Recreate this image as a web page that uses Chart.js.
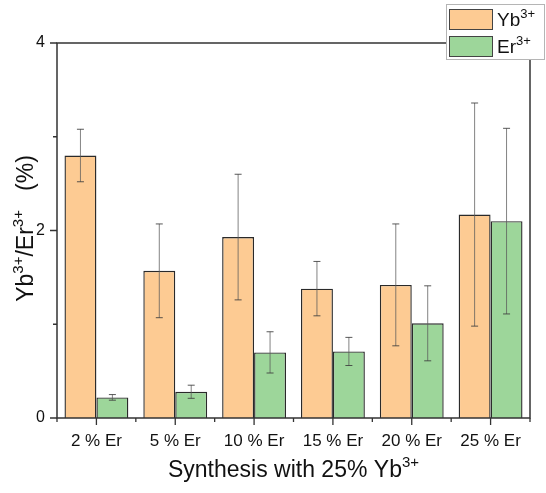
<!DOCTYPE html>
<html>
<head>
<meta charset="utf-8">
<script src="https://cdn.jsdelivr.net/npm/chart.js@4.4.1/dist/chart.umd.min.js"></script>
<style>
  html, body { margin: 0; padding: 0; background: #fff; }
  #wrap { width: 546px; height: 493px; }
</style>
</head>
<body>
<div id="wrap"><canvas id="chart" width="546" height="493"></canvas></div>
<script>
// --- data ---
const categories = ['2 % Er', '5 % Er', '10 % Er', '15 % Er', '20 % Er', '25 % Er'];
const ybValues = [2.80, 1.57, 1.93, 1.38, 1.42, 2.17];
const ybErrors = [0.28, 0.50, 0.67, 0.29, 0.65, 1.19];
const erValues = [0.22, 0.28, 0.70, 0.71, 1.01, 2.10];
const erErrors = [0.03, 0.07, 0.22, 0.15, 0.40, 0.99];
const yTicks = [0, 2, 4];
const yMinorTicks = [1, 3];

const FONT = '"Liberation Sans", Arial, sans-serif';
const AXIS_COLOR = '#333';

// draw text with ^{...} superscripts; align = 'left' | 'center'
function drawRich(ctx, text, x, y, size, supSize, align) {
  const parts = [];
  const re = /\^\{([^}]*)\}/g;
  let last = 0, m;
  while ((m = re.exec(text))) {
    if (m.index > last) parts.push({ t: text.slice(last, m.index), sup: false });
    parts.push({ t: m[1], sup: true });
    last = re.lastIndex;
  }
  if (last < text.length) parts.push({ t: text.slice(last), sup: false });

  let total = 0;
  parts.forEach(p => {
    ctx.font = `${p.sup ? supSize : size}px ${FONT}`;
    p.w = ctx.measureText(p.t).width;
    total += p.w;
  });
  let cx = align === 'center' ? x - total / 2 : x;
  ctx.textAlign = 'left';
  ctx.textBaseline = 'alphabetic';
  parts.forEach(p => {
    ctx.font = `${p.sup ? supSize : size}px ${FONT}`;
    ctx.fillText(p.t, cx, p.sup ? y - size * 0.42 : y);
    cx += p.w;
  });
}

const errorBars = {
  id: 'errorBars',
  afterDatasetsDraw(chart) {
    const ctx = chart.ctx;
    const y = chart.scales.y;
    const errs = [ybErrors, erErrors];
    ctx.save();
    chart.data.datasets.forEach((ds, di) => {
      const meta = chart.getDatasetMeta(di);
      meta.data.forEach((bar, i) => {
        const v = ds.data[i], e = errs[di][i];
        const top = y.getPixelForValue(v + e);
        const bot = y.getPixelForValue(v - e);
        ctx.strokeStyle = 'rgba(90,90,90,0.75)';
        ctx.lineWidth = 1;
        ctx.beginPath();
        ctx.moveTo(bar.x, top);
        ctx.lineTo(bar.x, bot);
        ctx.stroke();
        ctx.strokeStyle = 'rgba(60,60,60,0.85)';
        ctx.beginPath();
        ctx.moveTo(bar.x - 3.5, top); ctx.lineTo(bar.x + 3.5, top);
        ctx.moveTo(bar.x - 3.5, bot); ctx.lineTo(bar.x + 3.5, bot);
        ctx.stroke();
      });
    });
    ctx.restore();
  }
};

const frame = {
  id: 'frame',
  afterDraw(chart) {
    const ctx = chart.ctx;
    const a = chart.chartArea;
    const xs = chart.scales.x, ys = chart.scales.y;
    ctx.save();
    ctx.strokeStyle = AXIS_COLOR;
    ctx.lineWidth = 1.5;
    ctx.beginPath();
    ctx.rect(a.left, a.top, a.right - a.left, a.bottom - a.top);
    ctx.stroke();

    // y ticks (outward, left)
    ctx.lineWidth = 1.3;
    ctx.beginPath();
    yTicks.forEach(v => {
      const py = ys.getPixelForValue(v);
      ctx.moveTo(a.left, py); ctx.lineTo(a.left - 7, py);
    });
    yMinorTicks.forEach(v => {
      const py = ys.getPixelForValue(v);
      ctx.moveTo(a.left, py); ctx.lineTo(a.left - 4, py);
    });
    // x ticks: major at categories, minor at boundaries
    categories.forEach((c, i) => {
      const px = xs.getPixelForValue(i);
      ctx.moveTo(px, a.bottom); ctx.lineTo(px, a.bottom + 7);
    });
    for (let i = 0; i <= categories.length; i++) {
      const px = xs.getPixelForValue(i - 0.5);
      ctx.moveTo(px, a.bottom); ctx.lineTo(px, a.bottom + 4);
    }
    ctx.stroke();

    // axis titles
    ctx.fillStyle = '#111';
    drawRich(ctx, 'Synthesis with 25% Yb^{3+}', (a.left + a.right) / 2, 477, 23, 15, 'center');
    ctx.save();
    ctx.translate(33, (a.top + a.bottom) / 2 - 2);
    ctx.rotate(-Math.PI / 2);
    drawRich(ctx, 'Yb^{3+}/Er^{3+}   (%)', 0, 0, 23, 15, 'center');
    ctx.restore();

    // legend box
    const lx = 446, ly = 4, lw = 99, lh = 56;
    ctx.fillStyle = '#fff';
    ctx.fillRect(lx, ly, lw, lh);
    ctx.strokeStyle = '#b5b5b5';
    ctx.lineWidth = 1;
    ctx.strokeRect(lx + 0.5, ly + 0.5, lw - 1, lh - 1);
    chart.data.datasets.forEach((ds, i) => {
      const sy = 9 + i * 27;
      ctx.fillStyle = ds.backgroundColor;
      ctx.fillRect(449, sy, 44, 21);
      ctx.strokeStyle = '#444';
      ctx.lineWidth = 1;
      ctx.strokeRect(449.5, sy + 0.5, 43, 20);
      ctx.fillStyle = '#111';
      drawRich(ctx, ds.label, 497, sy + 17, 19, 13, 'left');
    });
    ctx.restore();
  }
};

new Chart(document.getElementById('chart'), {
  type: 'bar',
  data: {
    labels: categories,
    datasets: [
      {
        label: 'Yb^{3+}',
        data: ybValues,
        backgroundColor: '#FDCB93',
        borderColor: '#2a2a2a',
        borderWidth: 1.4,
      },
      {
        label: 'Er^{3+}',
        data: erValues,
        backgroundColor: '#9DD69A',
        borderColor: '#2a2a2a',
        borderWidth: 1.4,
      },
    ],
  },
  options: {
    responsive: false,
    animation: false,
    devicePixelRatio: 1,
    categoryPercentage: 0.81,
    barPercentage: 1,
    layout: { padding: { top: 43, right: 16, left: 0, bottom: 0 } },
    plugins: { legend: { display: false }, tooltip: { enabled: false } },
    scales: {
      x: {
        grid: { display: false, drawTicks: false },
        border: { display: false },
        ticks: { color: '#111', font: { family: FONT, size: 17 }, padding: 13, maxRotation: 0 },
        afterFit: s => { s.height = 75; },
      },
      y: {
        min: 0, max: 4,
        afterBuildTicks: s => { s.ticks = yTicks.map(v => ({ value: v })); },
        grid: { display: false, drawTicks: false },
        border: { display: false },
        ticks: { color: '#111', font: { family: FONT, size: 16 }, padding: 12 },
        afterFit: s => { s.width = 57; },
      },
    },
  },
  plugins: [errorBars, frame],
});
</script>
</body>
</html>
